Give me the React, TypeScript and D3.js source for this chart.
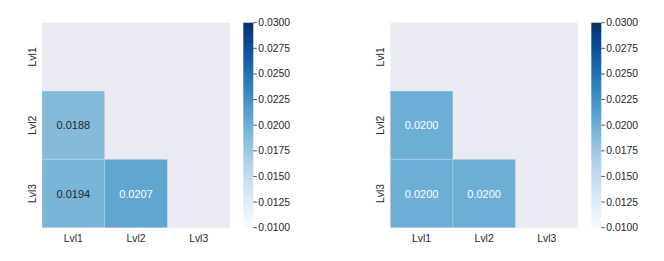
import React, { useEffect, useRef } from 'react';
import * as d3 from 'd3';

const levels = ['Lvl1', 'Lvl2', 'Lvl3'];
// lower-triangle values, null = masked
const leftValues: (number | null)[][] = [
  [null, null, null],
  [0.0188, null, null],
  [0.0194, 0.0207, null],
];
const rightValues: (number | null)[][] = [
  [null, null, null],
  [0.02, null, null],
  [0.02, 0.02, null],
];
const colorbarTicks = [0.01, 0.0125, 0.015, 0.0175, 0.02, 0.0225, 0.025, 0.0275, 0.03];
const vMin = 0.01;
const vMax = 0.03;

const W = 664;
const H = 261;
const FONT = 'Liberation Sans, Arial, sans-serif';
const TEXT = '#262626';

const panels = [
  { values: leftValues, x0: 42, x1: 230, cb0: 243.3, id: 'l' },
  { values: rightValues, x0: 390.3, x1: 578, cb0: 591.3, id: 'r' },
];
const top = 22.7;
const bottom = 227.7;

// relative luminance, same rule seaborn uses to pick annotation colour
const luminance = (c: string) => {
  const rgb = d3.rgb(c);
  const lin = (v: number) => {
    const s = v / 255;
    return s <= 0.03928 ? s / 12.92 : Math.pow((s + 0.055) / 1.055, 2.4);
  };
  return 0.2126 * lin(rgb.r) + 0.7152 * lin(rgb.g) + 0.0722 * lin(rgb.b);
};

const App = () => {
  const svgRef = useRef<SVGSVGElement>(null);

  useEffect(() => {
    if (!svgRef.current) return;
    const svg = d3.select(svgRef.current);
    svg.selectAll('*').remove();

    const color = d3.scaleSequential(d3.interpolateBlues).domain([vMin, vMax]);
    const defs = svg.append('defs');

    panels.forEach((p) => {
      const x = d3.scaleBand<string>().domain(levels).range([p.x0, p.x1]);
      const y = d3.scaleBand<string>().domain(levels).range([top, bottom]);
      const g = svg.append('g');

      // masked background
      g.append('rect')
        .attr('x', p.x0)
        .attr('y', top)
        .attr('width', p.x1 - p.x0)
        .attr('height', bottom - top)
        .attr('fill', '#eaeaf2');

      const cells: { r: string; c: string; v: number }[] = [];
      p.values.forEach((row, i) =>
        row.forEach((v, j) => {
          if (v !== null) cells.push({ r: levels[i], c: levels[j], v });
        })
      );

      g.selectAll('rect.cell')
        .data(cells)
        .enter()
        .append('rect')
        .attr('class', 'cell')
        .attr('x', (d) => x(d.c)!)
        .attr('y', (d) => y(d.r)!)
        .attr('width', x.bandwidth())
        .attr('height', y.bandwidth())
        .attr('fill', (d) => color(d.v))
        .attr('stroke', 'rgba(255,255,255,0.18)')
        .attr('stroke-width', 1);

      g.selectAll('text.annot')
        .data(cells)
        .enter()
        .append('text')
        .attr('x', (d) => x(d.c)! + x.bandwidth() / 2)
        .attr('y', (d) => y(d.r)! + y.bandwidth() / 2)
        .attr('text-anchor', 'middle')
        .attr('dominant-baseline', 'central')
        .attr('font-family', FONT)
        .attr('font-size', 11)
        .attr('fill', (d) => (luminance(color(d.v)) > 0.408 ? TEXT : '#ffffff'))
        .text((d) => d.v.toFixed(4));

      // x tick labels
      g.selectAll('text.xl')
        .data(levels)
        .enter()
        .append('text')
        .attr('x', (d) => x(d)! + x.bandwidth() / 2)
        .attr('y', 242)
        .attr('text-anchor', 'middle')
        .attr('font-family', FONT)
        .attr('font-size', 10.4)
        .attr('fill', TEXT)
        .text((d) => d);

      // y tick labels, rotated
      g.selectAll('text.yl')
        .data(levels)
        .enter()
        .append('text')
        .attr('transform', (d) => `translate(${p.x0 - 6},${y(d)! + y.bandwidth() / 2}) rotate(-90)`)
        .attr('text-anchor', 'middle')
        .attr('font-family', FONT)
        .attr('font-size', 10.4)
        .attr('fill', TEXT)
        .text((d) => d);

      // colorbar
      const grad = defs.append('linearGradient')
        .attr('id', `cb-${p.id}`)
        .attr('x1', 0).attr('y1', 1).attr('x2', 0).attr('y2', 0);
      d3.range(0, 1.0001, 0.05).forEach((t) => {
        grad.append('stop')
          .attr('offset', t)
          .attr('stop-color', d3.interpolateBlues(t));
      });
      g.append('rect')
        .attr('x', p.cb0)
        .attr('y', top)
        .attr('width', 10)
        .attr('height', bottom - top)
        .attr('fill', `url(#cb-${p.id})`);

      const cy = d3.scaleLinear().domain([vMin, vMax]).range([bottom, top]);
      const cbAxis = g.append('g');
      colorbarTicks.forEach((t) => {
        cbAxis.append('line')
          .attr('x1', p.cb0 + 10)
          .attr('x2', p.cb0 + 13.5)
          .attr('y1', cy(t))
          .attr('y2', cy(t))
          .attr('stroke', TEXT)
          .attr('stroke-width', 0.8);
        cbAxis.append('text')
          .attr('x', p.cb0 + 15)
          .attr('y', cy(t))
          .attr('dominant-baseline', 'central')
          .attr('font-family', FONT)
          .attr('font-size', 10.4)
          .attr('fill', TEXT)
          .text(t.toFixed(4));
      });
    });
  }, []);

  return (
    <svg
      ref={svgRef}
      width={W}
      height={H}
      style={{ position: 'absolute', left: 0, top: 0, background: '#ffffff' }}
    />
  );
};

export default App;
